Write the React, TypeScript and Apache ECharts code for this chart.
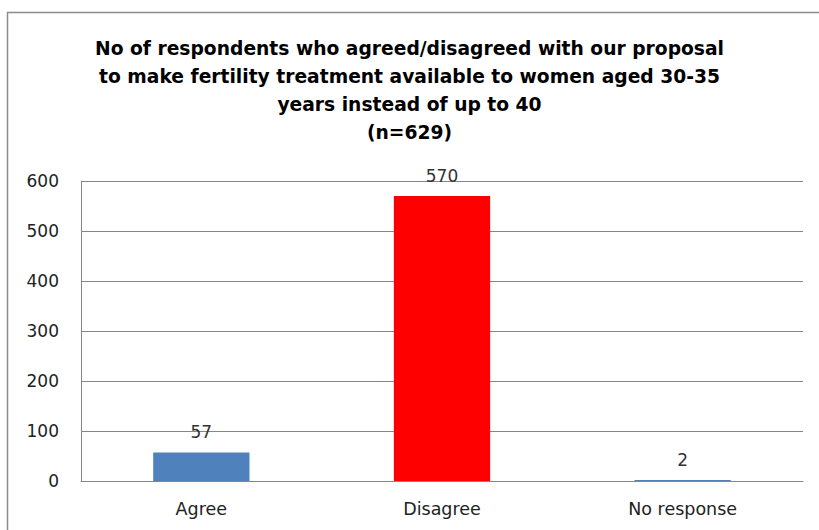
import React, { useEffect, useRef } from "react";
import * as echarts from "echarts";

const categories = ["Agree", "Disagree", "No response"];
const values = [57, 570, 2];
const barColors = ["#4F81BD", "#FF0000", "#4F81BD"];
const titleText =
  "No of respondents who agreed/disagreed with our proposal\nto make fertility treatment available to women aged 30-35\nyears instead of up to 40\n(n=629)";

export default function App() {
  const ref = useRef<HTMLDivElement>(null);

  useEffect(() => {
    document.body.style.margin = "0";
    if (!ref.current) return;
    const chart = echarts.init(ref.current, null, { renderer: "svg" });
    const font = "'DejaVu Sans', 'Open Sans', sans-serif";
    chart.setOption({
      animation: false,
      backgroundColor: "#ffffff",
      textStyle: { fontFamily: font },
      graphic: [
        {
          type: "rect",
          shape: { x: 7.5, y: 12.5, width: 830, height: 540 },
          style: { fill: "none", stroke: "#8c8c8c", lineWidth: 1.5 },
          silent: true,
        },
      ],
      title: {
        text: titleText,
        left: "center",
        top: 29,
        textStyle: {
          fontFamily: font,
          fontSize: 18.7,
          fontWeight: "bold",
          color: "#000000",
          lineHeight: 28,
        },
      },
      grid: { left: 81, right: 16, top: 181, bottom: 49, containLabel: false },
      xAxis: {
        type: "category",
        data: categories,
        axisTick: { show: false },
        axisLine: { lineStyle: { color: "#868686", width: 1 } },
        axisLabel: { color: "#222222", fontSize: 17.5, margin: 19, fontFamily: font },
      },
      yAxis: {
        type: "value",
        min: 0,
        max: 600,
        interval: 100,
        axisLine: { show: true, lineStyle: { color: "#868686" } },
        axisTick: { show: false },
        axisLabel: { color: "#222222", fontSize: 17, margin: 22, fontFamily: font },
        splitLine: { lineStyle: { color: "#868686", width: 1 } },
      },
      series: [
        {
          type: "bar",
          barWidth: "40%",
          data: values.map((v, i) => ({ value: v, itemStyle: { color: barColors[i] } })),
          label: {
            show: true,
            position: "top",
            distance: 12,
            color: "#333333",
            fontSize: 17,
            fontFamily: font,
          },
        },
      ],
    });
    return () => chart.dispose();
  }, []);

  return <div ref={ref} style={{ width: 819, height: 530 }} />;
}
